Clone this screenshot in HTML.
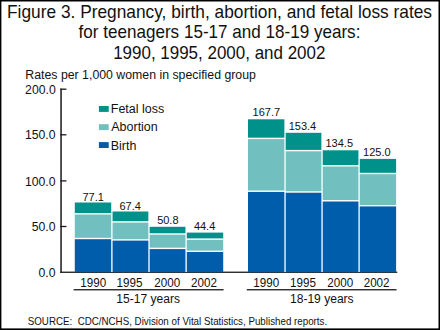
<!DOCTYPE html>
<html><head><meta charset="utf-8"><style>
html,body{margin:0;padding:0;background:#fff;}
svg{display:block;}
text{font-family:"Liberation Sans",sans-serif;fill:#111;white-space:pre;}
</style></head><body>
<svg width="440" height="330" viewBox="0 0 440 330">
<rect x="0" y="0" width="440" height="330" fill="#fff"/>
<rect x="60.3" y="88.6" width="1.5" height="184.3" fill="#1a1a1a"/><rect x="60.3" y="271.6" width="337" height="1.3" fill="#1a1a1a"/><rect x="60.3" y="88.55" width="6.1" height="1.3" fill="#1a1a1a"/><rect x="60.3" y="134.15" width="6.1" height="1.3" fill="#1a1a1a"/><rect x="60.3" y="180.25" width="6.1" height="1.3" fill="#1a1a1a"/><rect x="60.3" y="225.85" width="6.1" height="1.3" fill="#1a1a1a"/>
<rect x="74.80" y="202.50" width="37.10" height="11.30" fill="#00918a"/><rect x="74.80" y="213.80" width="37.10" height="24.70" fill="#72bfbf"/><rect x="74.80" y="238.50" width="37.10" height="33.70" fill="#005dab"/><rect x="74.80" y="213.10" width="37.10" height="1.4" fill="#fff"/><rect x="74.80" y="237.80" width="37.10" height="1.4" fill="#fff"/><rect x="111.90" y="211.50" width="37.10" height="10.40" fill="#00918a"/><rect x="111.90" y="221.90" width="37.10" height="18.00" fill="#72bfbf"/><rect x="111.90" y="239.90" width="37.10" height="32.30" fill="#005dab"/><rect x="111.90" y="221.20" width="37.10" height="1.4" fill="#fff"/><rect x="111.90" y="239.20" width="37.10" height="1.4" fill="#fff"/><rect x="149.00" y="226.80" width="37.10" height="7.20" fill="#00918a"/><rect x="149.00" y="234.00" width="37.10" height="14.40" fill="#72bfbf"/><rect x="149.00" y="248.40" width="37.10" height="23.80" fill="#005dab"/><rect x="149.00" y="233.30" width="37.10" height="1.4" fill="#fff"/><rect x="149.00" y="247.70" width="37.10" height="1.4" fill="#fff"/><rect x="186.10" y="232.60" width="37.10" height="6.50" fill="#00918a"/><rect x="186.10" y="239.10" width="37.10" height="12.20" fill="#72bfbf"/><rect x="186.10" y="251.30" width="37.10" height="20.90" fill="#005dab"/><rect x="186.10" y="238.40" width="37.10" height="1.4" fill="#fff"/><rect x="186.10" y="250.60" width="37.10" height="1.4" fill="#fff"/><rect x="111.25" y="100" width="1.3" height="172" fill="#fff"/><rect x="148.35" y="100" width="1.3" height="172" fill="#fff"/><rect x="185.45" y="100" width="1.3" height="172" fill="#fff"/><rect x="73.60" y="289.1" width="150.00" height="1.3" fill="#1a1a1a"/><rect x="248.00" y="119.30" width="37.03" height="19.10" fill="#00918a"/><rect x="248.00" y="138.40" width="37.03" height="52.80" fill="#72bfbf"/><rect x="248.00" y="191.20" width="37.03" height="81.00" fill="#005dab"/><rect x="248.00" y="137.70" width="37.03" height="1.4" fill="#fff"/><rect x="248.00" y="190.50" width="37.03" height="1.4" fill="#fff"/><rect x="285.02" y="132.80" width="37.03" height="17.80" fill="#00918a"/><rect x="285.02" y="150.60" width="37.03" height="41.40" fill="#72bfbf"/><rect x="285.02" y="192.00" width="37.03" height="80.20" fill="#005dab"/><rect x="285.02" y="149.90" width="37.03" height="1.4" fill="#fff"/><rect x="285.02" y="191.30" width="37.03" height="1.4" fill="#fff"/><rect x="322.05" y="150.30" width="37.03" height="15.50" fill="#00918a"/><rect x="322.05" y="165.80" width="37.03" height="35.00" fill="#72bfbf"/><rect x="322.05" y="200.80" width="37.03" height="71.40" fill="#005dab"/><rect x="322.05" y="165.10" width="37.03" height="1.4" fill="#fff"/><rect x="322.05" y="200.10" width="37.03" height="1.4" fill="#fff"/><rect x="359.08" y="158.90" width="37.03" height="14.60" fill="#00918a"/><rect x="359.08" y="173.50" width="37.03" height="32.20" fill="#72bfbf"/><rect x="359.08" y="205.70" width="37.03" height="66.50" fill="#005dab"/><rect x="359.08" y="172.80" width="37.03" height="1.4" fill="#fff"/><rect x="359.08" y="205.00" width="37.03" height="1.4" fill="#fff"/><rect x="284.38" y="100" width="1.3" height="172" fill="#fff"/><rect x="321.40" y="100" width="1.3" height="172" fill="#fff"/><rect x="358.43" y="100" width="1.3" height="172" fill="#fff"/><rect x="246.80" y="289.1" width="149.70" height="1.3" fill="#1a1a1a"/>
<rect x="98.9" y="106.0" width="9.8" height="5.9" fill="#00918a"/><rect x="98.9" y="124.2" width="9.8" height="5.9" fill="#72bfbf"/><rect x="98.9" y="142.1" width="9.8" height="5.9" fill="#005dab"/>
<text x="7.03" y="17.50" font-size="17.7" textLength="424.97" lengthAdjust="spacingAndGlyphs">Figure 3. Pregnancy, birth, abortion, and fetal loss rates</text><text x="78.58" y="38.00" font-size="17.7" textLength="281.83" lengthAdjust="spacingAndGlyphs">for teenagers 15-17 and 18-19 years:</text><text x="113.15" y="58.60" font-size="17.7" textLength="212.26" lengthAdjust="spacingAndGlyphs">1990, 1995, 2000, and 2002</text><text x="25.37" y="79.10" font-size="12" textLength="230.51" lengthAdjust="spacingAndGlyphs">Rates per 1,000 women in specified group</text><text x="27.73" y="324.60" font-size="10.4" textLength="299.42" lengthAdjust="spacingAndGlyphs">SOURCE:  CDC/NCHS, Division of Vital Statistics, Published reports.</text><text x="110.77" y="113.20" font-size="12" textLength="53.41" lengthAdjust="spacingAndGlyphs">Fetal loss</text><text x="111.27" y="131.40" font-size="12" textLength="46.49" lengthAdjust="spacingAndGlyphs">Abortion</text><text x="110.74" y="149.60" font-size="12" textLength="25.68" lengthAdjust="spacingAndGlyphs">Birth</text><text x="116.29" y="303.00" font-size="12" textLength="63.69" lengthAdjust="spacingAndGlyphs">15-17 years</text><text x="289.98" y="303.00" font-size="12" textLength="63.69" lengthAdjust="spacingAndGlyphs">18-19 years</text><text x="82.48" y="200.60" font-size="11" textLength="21.42" lengthAdjust="spacingAndGlyphs">77.1</text><text x="119.49" y="209.50" font-size="11" textLength="21.42" lengthAdjust="spacingAndGlyphs">67.4</text><text x="157.15" y="224.00" font-size="11" textLength="21.42" lengthAdjust="spacingAndGlyphs">50.8</text><text x="193.88" y="230.30" font-size="11" textLength="21.42" lengthAdjust="spacingAndGlyphs">44.4</text><text x="252.57" y="116.20" font-size="11" textLength="27.53" lengthAdjust="spacingAndGlyphs">167.7</text><text x="288.68" y="129.80" font-size="11" textLength="27.53" lengthAdjust="spacingAndGlyphs">153.4</text><text x="325.51" y="147.10" font-size="11" textLength="27.53" lengthAdjust="spacingAndGlyphs">134.5</text><text x="363.07" y="155.90" font-size="11" textLength="27.53" lengthAdjust="spacingAndGlyphs">125.0</text><text x="80.26" y="286.60" font-size="12" textLength="25.90" lengthAdjust="spacingAndGlyphs">1990</text><text x="116.54" y="286.60" font-size="12" textLength="25.90" lengthAdjust="spacingAndGlyphs">1995</text><text x="154.28" y="286.60" font-size="12" textLength="25.90" lengthAdjust="spacingAndGlyphs">2000</text><text x="191.08" y="286.60" font-size="12" textLength="25.90" lengthAdjust="spacingAndGlyphs">2002</text><text x="253.32" y="286.60" font-size="12" textLength="25.90" lengthAdjust="spacingAndGlyphs">1990</text><text x="290.00" y="286.60" font-size="12" textLength="25.90" lengthAdjust="spacingAndGlyphs">1995</text><text x="327.25" y="286.60" font-size="12" textLength="25.90" lengthAdjust="spacingAndGlyphs">2000</text><text x="363.68" y="286.60" font-size="12" textLength="25.90" lengthAdjust="spacingAndGlyphs">2002</text><text x="25.09" y="93.80" font-size="12" textLength="30.63" lengthAdjust="spacingAndGlyphs">200.0</text><text x="24.91" y="139.40" font-size="12" textLength="30.63" lengthAdjust="spacingAndGlyphs">150.0</text><text x="24.91" y="185.50" font-size="12" textLength="30.63" lengthAdjust="spacingAndGlyphs">100.0</text><text x="31.75" y="231.10" font-size="12" textLength="23.83" lengthAdjust="spacingAndGlyphs">50.0</text><text x="38.52" y="277.00" font-size="12" textLength="17.02" lengthAdjust="spacingAndGlyphs">0.0</text>
<rect x="0" y="0" width="440" height="1.5" fill="#000"/>
<rect x="0" y="0" width="1.4" height="330" fill="#000"/>
<rect x="438.5" y="0" width="1.5" height="330" fill="#000"/>
<rect x="0" y="328.4" width="440" height="1.6" fill="#000"/>
</svg>
</body></html>
